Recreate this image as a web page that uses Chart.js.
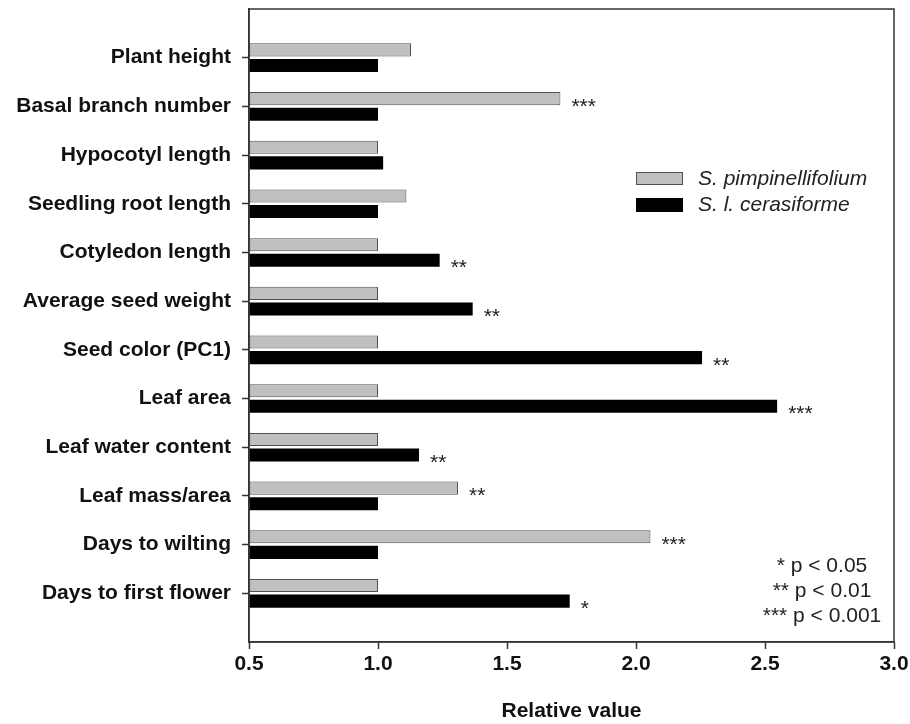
<!DOCTYPE html>
<html>
<head>
<meta charset="utf-8">
<script src="https://cdn.jsdelivr.net/npm/chart.js@4.4.1/dist/chart.umd.min.js"></script>
<style>
  body { margin: 0; background: #fff; }
  canvas { display: block; }
</style>
</head>
<body>
<canvas id="traitChart" width="910" height="724"></canvas>
<script>
// trait names, top to bottom
const categories = [
  "Plant height",
  "Basal branch number",
  "Hypocotyl length",
  "Seedling root length",
  "Cotyledon length",
  "Average seed weight",
  "Seed color (PC1)",
  "Leaf area",
  "Leaf water content",
  "Leaf mass/area",
  "Days to wilting",
  "Days to first flower",
];

// relative values
const pimpValues = [1.128, 1.707, 1.0, 1.11, 1.0, 1.0, 1.0, 1.0, 1.0, 1.31, 2.056, 1.0];
const ceraValues = [1.0, 1.0, 1.02, 1.0, 1.239, 1.367, 2.256, 2.547, 1.159, 1.0, 1.0, 1.743];

// significance marks next to bars
const pimpSig = ["", "***", "", "", "", "", "", "", "", "**", "***", ""];
const ceraSig = ["", "", "", "", "**", "**", "**", "***", "**", "", "", "*"];

const xTicks = [0.5, 1.0, 1.5, 2.0, 2.5, 3.0];
const seriesNames = ["S. pimpinellifolium", "S. l. cerasiforme"];
const pLegend = ["* p < 0.05", "** p < 0.01", "*** p < 0.001"];

const FONT = "'Liberation Sans', Arial, Helvetica, sans-serif";
const GRAY = "#c0c0c0";
const GRAY_EDGE = "#505050";

// pad the category axis with an empty slot at each end
const yLabels = [""].concat(categories, [""]);
const pad = (arr) => [null].concat(arr, [null]);
const pimpData = pad(pimpValues);
const ceraData = pad(ceraValues);
const pimpMarks = pad(pimpSig);
const ceraMarks = pad(ceraSig);

const decorPlugin = {
  id: "decor",
  afterDatasetsDraw(chart) {
    const ctx = chart.ctx;

    // significance asterisks
    ctx.save();
    ctx.fillStyle = "#222";
    ctx.font = "21px " + FONT;
    ctx.textAlign = "left";
    ctx.textBaseline = "alphabetic";
    [pimpMarks, ceraMarks].forEach((marks, di) => {
      const meta = chart.getDatasetMeta(di);
      meta.data.forEach((bar, i) => {
        if (!marks[i]) return;
        ctx.fillText(marks[i], bar.x + 11, bar.y + 14);
      });
    });
    ctx.restore();
  },
  afterDraw(chart) {
    const ctx = chart.ctx;
    const area = chart.chartArea;

    // frame
    ctx.save();
    ctx.strokeStyle = "#333";
    ctx.lineWidth = 1.5;
    ctx.strokeRect(area.left, area.top, area.right - area.left, area.bottom - area.top);

    // series legend
    const lx = 636, ly = [172, 198];
    ctx.lineWidth = 1;
    ctx.fillStyle = GRAY;
    ctx.fillRect(lx, ly[0], 47, 13);
    ctx.strokeStyle = GRAY_EDGE;
    ctx.strokeRect(lx + 0.5, ly[0] + 0.5, 46, 12);
    ctx.fillStyle = "#000";
    ctx.fillRect(lx, ly[1], 47, 14);

    ctx.fillStyle = "#222";
    ctx.font = "italic 21px " + FONT;
    ctx.textAlign = "left";
    ctx.textBaseline = "middle";
    ctx.fillText(seriesNames[0], 698, ly[0] + 7);
    ctx.fillText(seriesNames[1], 698, ly[1] + 7);

    // p-value key
    ctx.font = "21px " + FONT;
    ctx.textAlign = "center";
    ctx.textBaseline = "alphabetic";
    pLegend.forEach((t, i) => ctx.fillText(t, 822, 572 + i * 25));
    ctx.restore();
  },
};

new Chart(document.getElementById("traitChart"), {
  type: "bar",
  data: {
    labels: yLabels,
    datasets: [
      {
        label: seriesNames[0],
        data: pimpData,
        base: 0.5,
        backgroundColor: GRAY,
        borderColor: GRAY_EDGE,
        borderWidth: 1,
        borderSkipped: false,
        categoryPercentage: 0.64,
        barPercentage: 0.84,
      },
      {
        label: seriesNames[1],
        data: ceraData,
        base: 0.5,
        backgroundColor: "#000",
        borderColor: "#000",
        borderWidth: 0,
        categoryPercentage: 0.64,
        barPercentage: 0.84,
      },
    ],
  },
  options: {
    indexAxis: "y",
    responsive: false,
    devicePixelRatio: 1,
    animation: false,
    layout: { padding: 0 },
    plugins: {
      legend: { display: false },
      tooltip: { enabled: false },
    },
    scales: {
      x: {
        type: "linear",
        min: 0.5,
        max: 3.0,
        afterBuildTicks: (scale) => {
          scale.ticks = xTicks.map((v) => ({ value: v }));
        },
        afterFit: (scale) => {
          scale.height = 82;
          scale.paddingLeft = 0;
          scale.paddingRight = 16;
        },
        grid: {
          drawOnChartArea: false,
          drawTicks: true,
          tickLength: 7,
          tickColor: "#333",
          tickWidth: 1.5,
        },
        border: { color: "#333", width: 1.5 },
        ticks: {
          color: "#111",
          padding: 3,
          font: { family: FONT, size: 21, weight: "bold" },
          callback: (v) => Number(v).toFixed(1),
        },
        title: {
          display: true,
          text: "Relative value",
          color: "#111",
          padding: { top: 12, bottom: 0 },
          font: { family: FONT, size: 21, weight: "bold" },
        },
      },
      y: {
        type: "category",
        offset: false,
        afterFit: (scale) => {
          scale.width = 249;
          scale.paddingTop = 9;
          scale.paddingBottom = 0;
        },
        grid: {
          offset: false,
          drawOnChartArea: false,
          drawTicks: true,
          tickLength: 7,
          tickWidth: 1.5,
          tickColor: (c) => (c.index === 0 || c.index === yLabels.length - 1 ? "rgba(0,0,0,0)" : "#333"),
        },
        border: { color: "#333", width: 1.5 },
        ticks: {
          color: "#111",
          padding: 11,
          autoSkip: false,
          font: { family: FONT, size: 21, weight: "bold" },
        },
      },
    },
  },
  plugins: [decorPlugin],
});
</script>
</body>
</html>
